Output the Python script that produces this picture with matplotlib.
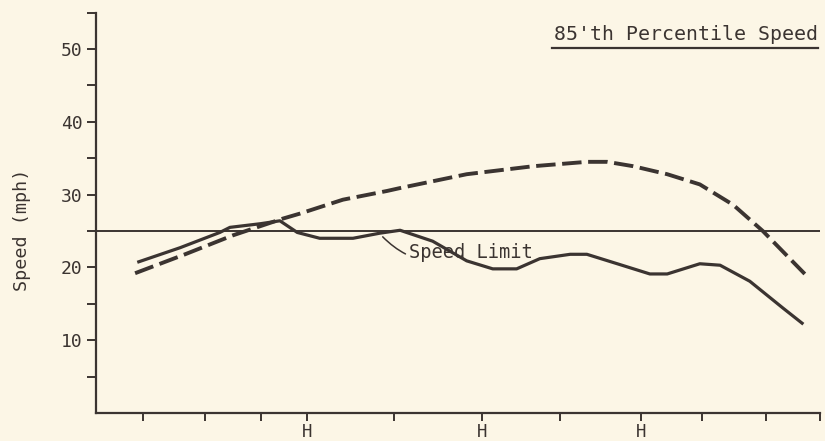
import matplotlib
matplotlib.use("Agg")
import matplotlib.pyplot as plt
from matplotlib.lines import Line2D

# ---- data (x = relative distance along the route, 0..100) ----
mean_x = [5.7, 11.6, 17.1, 18.5, 22.7, 25.4, 27.8, 30.9, 35.5, 39.2, 42.0,
          46.5, 51.2, 54.8, 58.1, 61.3, 65.5, 67.8, 72.0, 76.5, 78.9,
          83.4, 86.2, 90.3, 94.9, 97.7]
mean_speed = [20.7, 22.7, 24.8, 25.5, 26.0, 26.4, 24.8, 24.0, 24.0, 24.7, 25.1,
              23.6, 20.9, 19.8, 19.8, 21.2, 21.8, 21.8, 20.5, 19.1, 19.1,
              20.5, 20.3, 18.1, 14.4, 12.2]

p85_x = [5.4, 12.3, 18.9, 25.8, 28.2, 34.1, 40.2, 42.0, 51.2, 60.4, 67.8,
         70.6, 74.2, 78.9, 83.4, 88.0, 92.1, 97.9]
p85_speed = [19.2, 21.8, 24.4, 26.7, 27.4, 29.3, 30.5, 30.9, 32.8, 33.9, 34.5,
             34.5, 33.9, 32.8, 31.4, 28.6, 25.0, 19.1]

speed_limit = 25
x_ticks = [6.5, 15.1, 22.8, 29.1, 41.2, 53.3, 64.1, 75.3, 83.7, 92.5, 100]
x_tick_labels = ["", "", "", "H", "", "H", "", "H", "", "", ""]
y_ticks = [5, 10, 15, 20, 25, 30, 35, 40, 45, 50, 55]
y_tick_labels = ["", "10", "", "20", "", "30", "", "40", "", "50", ""]

bg = "#fcf6e6"
ink = "#3b3431"
font = "DejaVu Sans Mono"

fig = plt.figure(figsize=(8.25, 4.41), dpi=100, facecolor=bg)
W, H = 825, 441
ax = fig.add_axes([96 / W, (H - 413) / H, (820 - 96) / W, (413 - 12.6) / H])
ax.set_facecolor(bg)

ax.set_xlim(0, 100)
ax.set_ylim(0, 55)

# speed limit line
ax.axhline(speed_limit, color=ink, lw=1.4, zorder=2)

# mean speed (solid)
ax.plot(mean_x, mean_speed, color=ink, lw=2.3, solid_capstyle="butt",
        solid_joinstyle="round", zorder=3)
# 85th percentile (dashed)
ax.plot(p85_x, p85_speed, color=ink, lw=2.8, dashes=(5.0, 1.7),
        dash_capstyle="butt", dash_joinstyle="round", zorder=3)

# spines / ticks
for s in ["top", "right"]:
    ax.spines[s].set_visible(False)
for s in ["left", "bottom"]:
    ax.spines[s].set_color(ink)
    ax.spines[s].set_linewidth(1.6)

ax.set_yticks(y_ticks)
ax.set_yticklabels(y_tick_labels, fontfamily=font, fontsize=13, color=ink)
ax.set_xticks(x_ticks)
ax.set_xticklabels(x_tick_labels, fontfamily=font, fontsize=12.5, color=ink)
ax.tick_params(axis="y", direction="out", length=6.5, width=1.4, color=ink, pad=3)
ax.tick_params(axis="x", direction="out", length=5.5, width=1.4, color=ink, pad=2)

fig.text(22 / W, 1 - 230 / H, "Speed (mph)", rotation=90, ha="center", va="center",
         fontfamily=font, fontsize=13.2, color=ink)

# speed limit annotation
ax.annotate("Speed Limit", xy=(39.6, 24.2), xytext=(43.3, 22.0),
            fontfamily=font, fontsize=13.5, color=ink, va="center", ha="left",
            arrowprops=dict(arrowstyle="-", color=ink, lw=1.1,
                            connectionstyle="arc3,rad=-0.35",
                            shrinkA=1, shrinkB=0))

# legend-like title with underline
fig.text(818 / W, 1 - 34 / H, "85'th Percentile Speed", ha="right", va="center",
         fontfamily=font, fontsize=14.3, color=ink)
fig.add_artist(Line2D([552 / W, 818 / W], [1 - 48 / H, 1 - 48 / H],
                      color=ink, lw=1.6, transform=fig.transFigure))

fig.savefig("out.png", dpi=100, facecolor=bg)
